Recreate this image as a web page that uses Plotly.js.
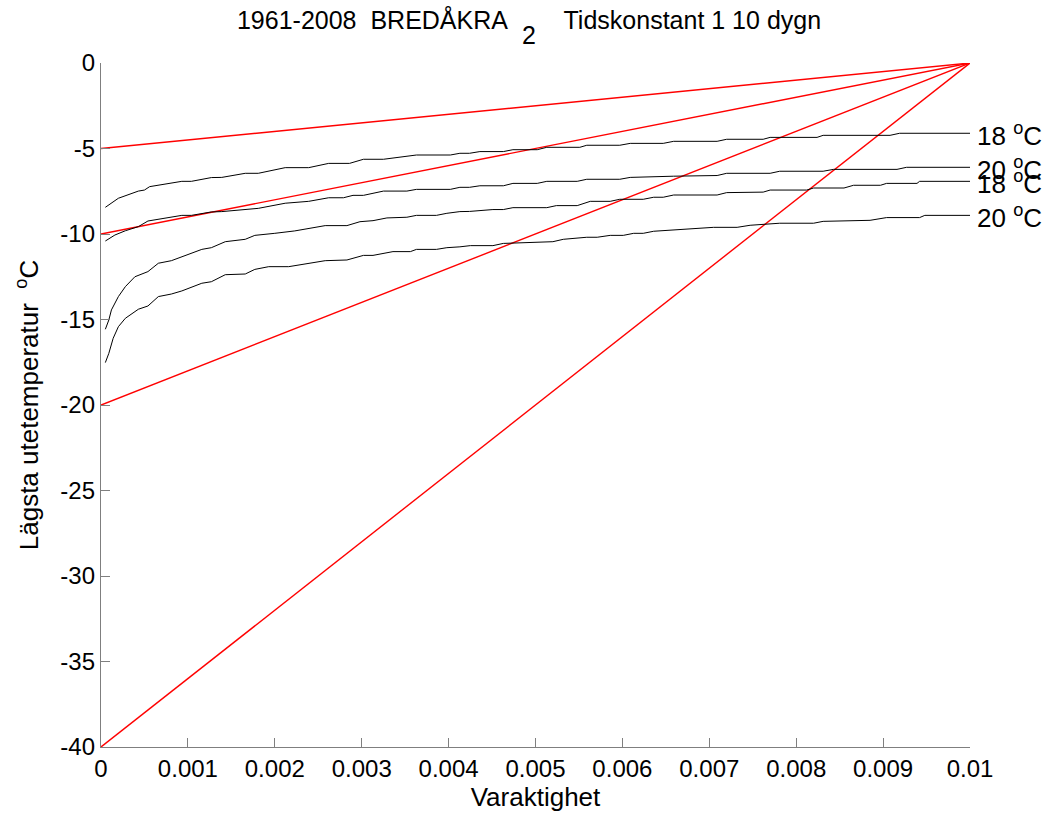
<!DOCTYPE html>
<html>
<head>
<meta charset="utf-8">
<script src="https://cdn.plot.ly/plotly-3.0.1.min.js"></script>
<style>html,body{margin:0;padding:0;background:#fff;}#chart{width:1049px;height:820px;}</style>
</head>
<body>
<div id="chart"></div>
<script>
// Red reference lines: start value at x=0, all end at (0.01, 0)
const redStartY = [-5, -10, -20, -40];
const redEnd = [0.01, 0];

// Black duration curves
const c1x = [0.00005,0.0002,0.00043,0.0005,0.00056,0.00093,0.00104,0.00127,0.00139,0.00166,0.00181,0.00212,0.00239,0.00262,0.00286,0.00302,0.00325,0.00363,0.00402,0.00413,0.00424,0.00436,0.00463,0.00474,0.00502,0.00513,0.00551,0.00559,0.00597,0.00609,0.00647,0.00659,0.00709,0.0072,0.00762,0.0077,0.00824,0.00831,0.00908,0.00919,0.01];
const c1y = [-8.44,-7.91,-7.49,-7.43,-7.23,-6.92,-6.92,-6.70,-6.69,-6.45,-6.45,-6.12,-6.12,-5.87,-5.87,-5.63,-5.63,-5.38,-5.38,-5.28,-5.28,-5.18,-5.18,-5.07,-5.07,-4.93,-4.93,-4.81,-4.81,-4.70,-4.70,-4.58,-4.58,-4.46,-4.46,-4.35,-4.35,-4.23,-4.23,-4.11,-4.11];

const c2x = [0.00005,0.00016,0.00028,0.00043,0.00054,0.0007,0.00093,0.00104,0.00127,0.00139,0.00166,0.00181,0.00212,0.00239,0.00262,0.00279,0.0029,0.00302,0.00313,0.00325,0.00352,0.00363,0.00402,0.00413,0.00424,0.00436,0.00463,0.00474,0.00502,0.00513,0.00548,0.00559,0.00597,0.00609,0.00659,0.00709,0.0072,0.0077,0.00781,0.00831,0.00843,0.00916,0.00927,0.01];
const c2y = [-10.41,-10.06,-9.81,-9.57,-9.24,-9.10,-8.91,-8.91,-8.71,-8.69,-8.56,-8.50,-8.20,-8.09,-7.88,-7.88,-7.74,-7.74,-7.62,-7.49,-7.49,-7.39,-7.39,-7.27,-7.27,-7.18,-7.18,-7.04,-7.04,-6.92,-6.92,-6.80,-6.80,-6.69,-6.62,-6.58,-6.45,-6.45,-6.33,-6.33,-6.22,-6.22,-6.10,-6.10];

const c3x = [0.00005,0.00009,0.00012,0.0002,0.00028,0.00039,0.00054,0.00066,0.00081,0.00093,0.00116,0.00127,0.00143,0.00166,0.00177,0.002,0.00223,0.00258,0.00283,0.00298,0.00313,0.00329,0.00352,0.00363,0.00386,0.00398,0.00413,0.00424,0.00451,0.00463,0.00474,0.00513,0.00524,0.00548,0.00563,0.00586,0.00597,0.00624,0.00636,0.00647,0.00659,0.00709,0.0072,0.00762,0.0077,0.00812,0.0082,0.00855,0.00866,0.00897,0.00904,0.00939,0.00942,0.01];
const c3y = [-15.57,-15.03,-14.44,-13.66,-13.08,-12.50,-12.20,-11.71,-11.56,-11.33,-10.90,-10.80,-10.45,-10.31,-10.08,-9.96,-9.82,-9.51,-9.51,-9.28,-9.22,-9.06,-9.02,-8.91,-8.91,-8.79,-8.69,-8.68,-8.57,-8.57,-8.46,-8.46,-8.34,-8.34,-8.09,-8.09,-7.97,-7.97,-7.85,-7.85,-7.72,-7.72,-7.58,-7.55,-7.43,-7.43,-7.31,-7.31,-7.15,-7.15,-7.04,-7.04,-6.92,-6.92];

const c4x = [0.00005,0.00009,0.00014,0.0002,0.00028,0.00043,0.00054,0.00066,0.00081,0.00093,0.00116,0.00127,0.00143,0.00166,0.00177,0.00193,0.00216,0.00239,0.00258,0.00283,0.00302,0.00313,0.00336,0.00356,0.00363,0.00386,0.00398,0.00413,0.00425,0.00451,0.00463,0.0052,0.00532,0.00559,0.00571,0.00586,0.00601,0.00613,0.00624,0.00636,0.00659,0.00705,0.00732,0.00747,0.00781,0.0082,0.00831,0.00885,0.00904,0.00942,0.00948,0.01];
const c4y = [-17.52,-16.98,-16.10,-15.42,-14.93,-14.40,-14.21,-13.66,-13.51,-13.33,-12.88,-12.79,-12.38,-12.34,-12.07,-11.91,-11.91,-11.71,-11.56,-11.52,-11.25,-11.25,-11.03,-11.03,-10.90,-10.90,-10.80,-10.75,-10.68,-10.68,-10.55,-10.45,-10.31,-10.19,-10.19,-10.08,-10.08,-9.96,-9.96,-9.84,-9.77,-9.61,-9.61,-9.49,-9.37,-9.37,-9.26,-9.20,-9.04,-9.04,-8.91,-8.91];

const curveLabels = ["18 <sup>o</sup>C", "20 <sup>o</sup>C", "18 <sup>o</sup>C", "20 <sup>o</sup>C"];

const xTickVals = [0,0.001,0.002,0.003,0.004,0.005,0.006,0.007,0.008,0.009,0.01];
const xTickText = ["0","0.001","0.002","0.003","0.004","0.005","0.006","0.007","0.008","0.009","0.01"];
const yTickVals = [0,-5,-10,-15,-20,-25,-30,-35,-40];
const yTickText = ["0","-5","-10","-15","-20","-25","-30","-35","-40"];

const FONT = "Arial, 'Liberation Sans', sans-serif";
const NB = "\u00A0";
const sp = function(n){ return NB.repeat(n); };
const titleText = "1961-2008" + sp(2) + "BREDÅKRA" + sp(8) + "Tidskonstant 1 10 dygn";
const titleSub = "2";

const traces = [];
redStartY.forEach(function(y0){
  traces.push({x:[0, redEnd[0]], y:[y0, redEnd[1]], mode:'lines', line:{color:'#ff0000', width:1.4}, hoverinfo:'skip'});
});
const curves = [[c1x,c1y],[c2x,c2y],[c3x,c3y],[c4x,c4y]];
curves.forEach(function(c){
  traces.push({x:c[0], y:c[1], mode:'lines', line:{color:'#000000', width:1}, hoverinfo:'skip'});
});

const annotations = curves.map(function(c, i){
  return {x:c[0][c[0].length-1], y:c[1][c[1].length-1], xref:'x', yref:'y', text:curveLabels[i],
    showarrow:false, xanchor:'left', yanchor:'middle', xshift:5, yshift:-1, font:{family:FONT, size:26, color:'#000'}};
});
// subscript "2" of the title (full size, lowered as in the reference)
annotations.push({x:0.4925, y:1.041, xref:'paper', yref:'paper', text:titleSub, showarrow:false,
  xanchor:'center', yanchor:'middle', font:{family:FONT, size:25, color:'#000'}});

const layout = {
  width:1049, height:820,
  margin:{l:101, r:79, t:63, b:73},
  paper_bgcolor:'#fff', plot_bgcolor:'#fff',
  showlegend:false,
  font:{family:FONT, size:24, color:'#000'},
  title:{text:titleText, x:0.2259, xanchor:'left', y:0.975, yanchor:'middle', font:{family:FONT, size:25, color:'#000'}},
  xaxis:{range:[0,0.01], tickvals:xTickVals, ticktext:xTickText, ticks:'inside', ticklen:9, tickwidth:1, tickcolor:'#7f7f7f',
    showline:true, linecolor:'#7f7f7f', linewidth:1.2, showgrid:false, zeroline:false, mirror:false,
    tickfont:{family:FONT, size:24, color:'#000'},
    title:{text:'Varaktighet', font:{family:FONT, size:26, color:'#000'}, standoff:6}},
  yaxis:{range:[-40,0], tickvals:yTickVals, ticktext:yTickText, ticks:'inside', ticklen:9, tickwidth:1, tickcolor:'#7f7f7f',
    showline:true, linecolor:'#7f7f7f', linewidth:1.2, showgrid:false, zeroline:false, mirror:false,
    tickfont:{family:FONT, size:24, color:'#000'},
    title:{text:'Lägsta utetemperatur' + sp(2) + '<sup>o</sup>C', font:{family:FONT, size:26, color:'#000'}, standoff:14}},
  annotations:annotations
};

Plotly.newPlot('chart', traces, layout, {displayModeBar:false, staticPlot:true});
</script>
</body>
</html>
